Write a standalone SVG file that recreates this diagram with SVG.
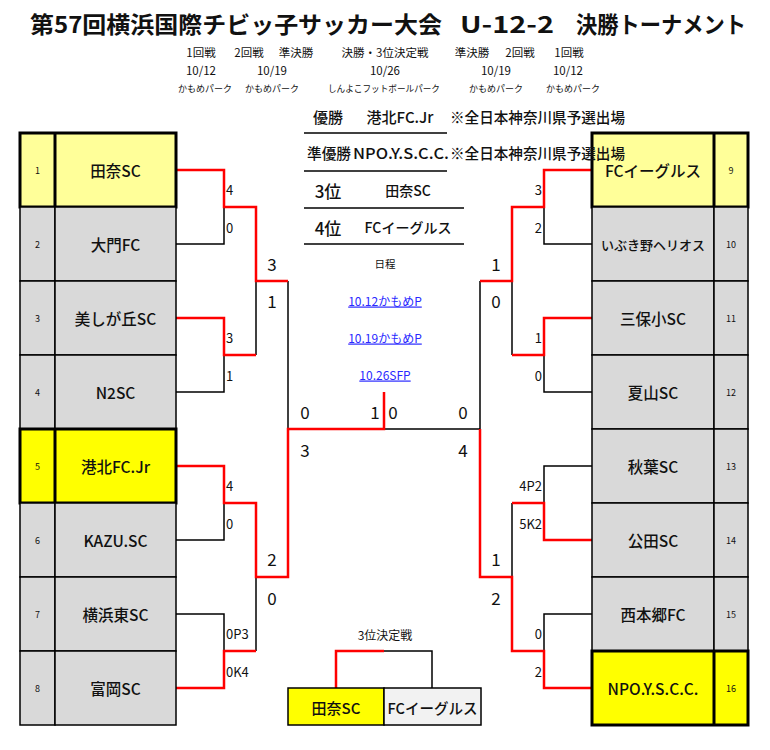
<svg xmlns="http://www.w3.org/2000/svg" width="770" height="750" viewBox="0 0 770 750">
<style>
text{font-family:"Noto Sans CJK JP","Noto Sans",sans-serif;fill:#111}
.name{font-size:15.5px;font-weight:500;text-anchor:middle;dominant-baseline:central}
.sm{font-size:13px}
.num{font-size:9px;text-anchor:middle;dominant-baseline:central}
.cell{stroke:#000;stroke-width:1.5}
.g{fill:#d9d9d9}
.ly{fill:#ffff99}
.y{fill:#ffff00}
.wh{fill:#f2f2f2}
.win{fill:none;stroke:#000;stroke-width:3}
.bk{fill:none;stroke:#000;stroke-width:1.5}
.rd{fill:none;stroke:#ff0000;stroke-width:2.5}
.s1{font-size:13px;dominant-baseline:central}
.s1r{font-size:13px;dominant-baseline:central;text-anchor:end}
.s2{font-size:17px;text-anchor:middle;dominant-baseline:central}
.hd{font-size:11.5px;text-anchor:middle;dominant-baseline:central}
.vn{font-size:9px;text-anchor:middle;dominant-baseline:central}
.c15{font-size:15px;font-weight:500;dominant-baseline:central}
.c14{font-size:14px;font-weight:500;text-anchor:middle;dominant-baseline:central}
.c15m{font-size:15px;font-weight:500;text-anchor:middle;dominant-baseline:central}
.lk{font-size:12px;text-anchor:middle;dominant-baseline:central;fill:#2a2aff;text-decoration:underline}
</style>

<g id="title">
<text x="30" y="23" font-size="23" font-weight="bold" dominant-baseline="central" textLength="412" lengthAdjust="spacingAndGlyphs">第57回横浜国際チビッ子サッカー大会</text>
<text x="460" y="23" font-size="23" font-weight="bold" dominant-baseline="central" textLength="94" lengthAdjust="spacingAndGlyphs">U-12-2</text>
<text x="576" y="23" font-size="23" font-weight="bold" dominant-baseline="central" textLength="170" lengthAdjust="spacingAndGlyphs">決勝トーナメント</text>
</g>

<g id="schedule-header">
<text class="hd" x="201" y="52">1回戦</text>
<text class="hd" x="249" y="52">2回戦</text>
<text class="hd" x="296" y="52">準決勝</text>
<text class="hd" x="385" y="52">決勝・3位決定戦</text>
<text class="hd" x="472" y="52">準決勝</text>
<text class="hd" x="520" y="52">2回戦</text>
<text class="hd" x="569" y="52">1回戦</text>
<text class="hd" x="201" y="70">10/12</text>
<text class="hd" x="272" y="70">10/19</text>
<text class="hd" x="385" y="70">10/26</text>
<text class="hd" x="496" y="70">10/19</text>
<text class="hd" x="568" y="70">10/12</text>
<text class="vn" x="205" y="88">かもめパーク</text>
<text class="vn" x="272" y="88">かもめパーク</text>
<text class="vn" x="384" y="88" textLength="112" lengthAdjust="spacingAndGlyphs">しんよこフットボールパーク</text>
<text class="vn" x="496" y="88">かもめパーク</text>
<text class="vn" x="573" y="88">かもめパーク</text>
</g>

<g id="connectors">
<path class="bk" d="M176,244H224V207"/>
<path class="bk" d="M176,392H224V355"/>
<path class="bk" d="M256,281V355"/>
<path class="bk" d="M288,281V429"/>
<path class="bk" d="M176,540H224V503"/>
<path class="bk" d="M176,614H224V651"/>
<path class="bk" d="M256,577V651"/>
<path class="bk" d="M592,244H544V207"/>
<path class="bk" d="M592,392H544V355"/>
<path class="bk" d="M512,281V355"/>
<path class="bk" d="M480,281V429H384"/>
<path class="bk" d="M592,466H544V503"/>
<path class="bk" d="M512,503V577"/>
<path class="bk" d="M592,614H544V651"/>
<path class="bk" d="M384,651H432V688"/>
<path class="rd" d="M176,170H224V207H256V281H288"/>
<path class="rd" d="M176,318H224V355H256"/>
<path class="rd" d="M176,466H224V503H256V577H288V429H384V392"/>
<path class="rd" d="M176,688H224V651H256"/>
<path class="rd" d="M592,170H544V207H512V281H480"/>
<path class="rd" d="M592,318H544V355H512"/>
<path class="rd" d="M592,540H544V503H512"/>
<path class="rd" d="M592,688H544V651H512V577H480V429"/>
<path class="rd" d="M336,688V651H384"/>
</g>

<g id="scores">
<text class="s1" x="226" y="189">4</text>
<text class="s1" x="226" y="227">0</text>
<text class="s1" x="226" y="337">3</text>
<text class="s1" x="226" y="375">1</text>
<text class="s1" x="226" y="485">4</text>
<text class="s1" x="226" y="523">0</text>
<text class="s1" x="226" y="633">0P3</text>
<text class="s1" x="226" y="671">0K4</text>
<text class="s2" x="272" y="263">3</text>
<text class="s2" x="272" y="300">1</text>
<text class="s2" x="272" y="558">2</text>
<text class="s2" x="272" y="597">0</text>
<text class="s2" x="305" y="411">0</text>
<text class="s2" x="305" y="449">3</text>
<text class="s2" x="375" y="411">1</text>
<text class="s2" x="393" y="411">0</text>
<text class="s2" x="463" y="411">0</text>
<text class="s2" x="463" y="449">4</text>
<text class="s2" x="496" y="263">1</text>
<text class="s2" x="496" y="300">0</text>
<text class="s2" x="496" y="558">1</text>
<text class="s2" x="496" y="597">2</text>
<text class="s1r" x="542" y="189">3</text>
<text class="s1r" x="542" y="227">2</text>
<text class="s1r" x="542" y="337">1</text>
<text class="s1r" x="542" y="375">0</text>
<text class="s1r" x="542" y="485">4P2</text>
<text class="s1r" x="542" y="523">5K2</text>
<text class="s1r" x="542" y="633">0</text>
<text class="s1r" x="542" y="671">2</text>
</g>

<g id="team-1"><rect class="cell ly" x="20" y="133" width="35" height="74"/><rect class="cell ly" x="55" y="133" width="121" height="74"/><rect class="win" x="20" y="133" width="156" height="74"/><line class="win" x1="55" y1="133" x2="55" y2="207"/><text class="num" x="37.5" y="170">1</text><text class="name" x="115.5" y="170">田奈SC</text></g>
<g id="team-2"><rect class="cell g" x="20" y="207" width="35" height="74"/><rect class="cell g" x="55" y="207" width="121" height="74"/><text class="num" x="37.5" y="244">2</text><text class="name" x="115.5" y="244">大門FC</text></g>
<g id="team-3"><rect class="cell g" x="20" y="281" width="35" height="74"/><rect class="cell g" x="55" y="281" width="121" height="74"/><text class="num" x="37.5" y="318">3</text><text class="name" x="115.5" y="318">美しが丘SC</text></g>
<g id="team-4"><rect class="cell g" x="20" y="355" width="35" height="74"/><rect class="cell g" x="55" y="355" width="121" height="74"/><text class="num" x="37.5" y="392">4</text><text class="name" x="115.5" y="392">N2SC</text></g>
<g id="team-5"><rect class="cell y" x="20" y="429" width="35" height="74"/><rect class="cell y" x="55" y="429" width="121" height="74"/><rect class="win" x="20" y="429" width="156" height="74"/><line class="win" x1="55" y1="429" x2="55" y2="503"/><text class="num" x="37.5" y="466">5</text><text class="name" x="115.5" y="466">港北FC.Jr</text></g>
<g id="team-6"><rect class="cell g" x="20" y="503" width="35" height="74"/><rect class="cell g" x="55" y="503" width="121" height="74"/><text class="num" x="37.5" y="540">6</text><text class="name" x="115.5" y="540">KAZU.SC</text></g>
<g id="team-7"><rect class="cell g" x="20" y="577" width="35" height="74"/><rect class="cell g" x="55" y="577" width="121" height="74"/><text class="num" x="37.5" y="614">7</text><text class="name" x="115.5" y="614">横浜東SC</text></g>
<g id="team-8"><rect class="cell g" x="20" y="651" width="35" height="74"/><rect class="cell g" x="55" y="651" width="121" height="74"/><text class="num" x="37.5" y="688">8</text><text class="name" x="115.5" y="688">富岡SC</text></g>

<g id="team-9"><rect class="cell ly" x="592" y="133" width="122" height="74"/><rect class="cell ly" x="714" y="133" width="34" height="74"/><rect class="win" x="592" y="133" width="156" height="74"/><line class="win" x1="714" y1="133" x2="714" y2="207"/><text class="name" x="653" y="170">FCイーグルス</text><text class="num" x="731" y="170">9</text></g>
<g id="team-10"><rect class="cell g" x="592" y="207" width="122" height="74"/><rect class="cell g" x="714" y="207" width="34" height="74"/><text class="name sm" x="653" y="244">いぶき野ヘリオス</text><text class="num" x="731" y="244">10</text></g>
<g id="team-11"><rect class="cell g" x="592" y="281" width="122" height="74"/><rect class="cell g" x="714" y="281" width="34" height="74"/><text class="name" x="653" y="318">三保小SC</text><text class="num" x="731" y="318">11</text></g>
<g id="team-12"><rect class="cell g" x="592" y="355" width="122" height="74"/><rect class="cell g" x="714" y="355" width="34" height="74"/><text class="name" x="653" y="392">夏山SC</text><text class="num" x="731" y="392">12</text></g>
<g id="team-13"><rect class="cell g" x="592" y="429" width="122" height="74"/><rect class="cell g" x="714" y="429" width="34" height="74"/><text class="name" x="653" y="466">秋葉SC</text><text class="num" x="731" y="466">13</text></g>
<g id="team-14"><rect class="cell g" x="592" y="503" width="122" height="74"/><rect class="cell g" x="714" y="503" width="34" height="74"/><text class="name" x="653" y="540">公田SC</text><text class="num" x="731" y="540">14</text></g>
<g id="team-15"><rect class="cell g" x="592" y="577" width="122" height="74"/><rect class="cell g" x="714" y="577" width="34" height="74"/><text class="name" x="653" y="614">西本郷FC</text><text class="num" x="731" y="614">15</text></g>
<g id="team-16"><rect class="cell y" x="592" y="651" width="122" height="74"/><rect class="cell y" x="714" y="651" width="34" height="74"/><rect class="win" x="592" y="651" width="156" height="74"/><line class="win" x1="714" y1="651" x2="714" y2="725"/><text class="name" x="653" y="688">NPO.Y.S.C.C.</text><text class="num" x="731" y="688">16</text></g>

<g id="results">
<text class="c15" x="328" y="116" text-anchor="middle">優勝</text>
<text class="c15" x="400" y="116" text-anchor="middle">港北FC.Jr</text>
<text class="c15" x="450" y="116" textLength="175" lengthAdjust="spacingAndGlyphs">※全日本神奈川県予選出場</text>
<line class="bk" x1="304" y1="133" x2="447" y2="133"/>
<text class="c15" x="307" y="152" textLength="44" lengthAdjust="spacingAndGlyphs">準優勝</text>
<text class="c15" x="353" y="152" textLength="96" lengthAdjust="spacingAndGlyphs">NPO.Y.S.C.C.</text>
<text class="c15" x="450" y="152" textLength="175" lengthAdjust="spacingAndGlyphs">※全日本神奈川県予選出場</text>
<line class="bk" x1="304" y1="171" x2="447" y2="171"/>
<text x="328" y="190" font-size="17" font-weight="500" text-anchor="middle" dominant-baseline="central">3位</text>
<text class="c14" x="408" y="190">田奈SC</text>
<line class="bk" x1="304" y1="208" x2="464" y2="208"/>
<text x="328" y="227" font-size="17" font-weight="500" text-anchor="middle" dominant-baseline="central">4位</text>
<text class="c14" x="408" y="227">FCイーグルス</text>
<line class="bk" x1="304" y1="244" x2="464" y2="244"/>
<text x="385" y="263" font-size="10.5" text-anchor="middle" dominant-baseline="central">日程</text>
<text class="lk" x="385" y="300">10.12かもめP</text>
<text class="lk" x="385" y="337">10.19かもめP</text>
<text class="lk" x="385" y="374">10.26SFP</text>
</g>

<g id="third-place">
<text x="385" y="634" font-size="12" text-anchor="middle" dominant-baseline="central">3位決定戦</text>
<rect class="cell y" x="288" y="688" width="96" height="37"/>
<rect class="cell wh" x="384" y="688" width="97" height="37"/>
<text class="c15m" x="336" y="707">田奈SC</text>
<text class="c15m" x="432.5" y="707" textLength="90" lengthAdjust="spacingAndGlyphs">FCイーグルス</text>
</g>
</svg>
